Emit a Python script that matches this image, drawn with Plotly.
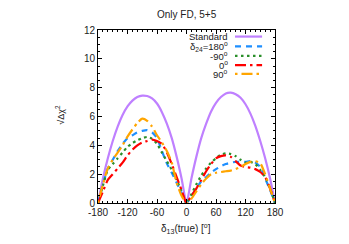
import plotly.graph_objects as go

delta = list(range(-180, 181, 10))

standard = [0, 1.7, 3.1, 4.3, 5.3, 6.1, 6.7, 7.1, 7.35, 7.45, 7.42, 7.25, 6.9, 6.3, 5.5, 4.5, 3.2, 1.7, 0,
            1.7, 3.2, 4.5, 5.5, 6.35, 6.95, 7.35, 7.6, 7.65, 7.55, 7.3, 6.85, 6.2, 5.35, 4.3, 3.1, 1.7, 0]
d24_180 = [0, 1.3, 2.4, 3.0, 3.6, 4.1, 4.5, 4.7, 4.9, 5.0, 5.05, 4.9, 4.5, 3.6, 2.75, 2.1, 1.4, 0.7, 0,
           0.5, 1.0, 1.5, 1.8, 2.1, 2.35, 2.55, 2.7, 2.8, 2.85, 2.85, 2.85, 2.9, 2.8, 2.5, 1.7, 0.9, 0]
d24_m90 = [0, 1.2, 2.3, 2.7, 3.1, 3.5, 3.9, 4.15, 4.35, 4.5, 4.58, 4.45, 4.1, 3.5, 2.9, 2.3, 1.6, 0.8, 0,
           0.6, 1.3, 1.9, 2.4, 2.8, 3.1, 3.35, 3.45, 3.4, 3.25, 3.0, 2.8, 2.85, 2.7, 2.3, 1.8, 1.0, 0]
d24_0 = [0, 0.8, 1.6, 2.0, 2.4, 2.8, 3.3, 3.7, 4.0, 4.2, 4.3, 4.4, 4.3, 4.1, 3.5, 2.7, 1.8, 0.9, 0,
         0.5, 1.0, 1.6, 2.2, 2.7, 3.1, 3.25, 3.3, 3.2, 2.9, 2.6, 2.5, 2.45, 2.35, 2.15, 1.8, 1.0, 0]
d24_90 = [0, 1.3, 2.4, 3.0, 3.5, 4.0, 4.6, 5.1, 5.55, 5.85, 5.7, 5.3, 4.7, 4.2, 3.6, 2.8, 1.4, 0.5, 0,
          0.3, 0.8, 1.3, 1.7, 2.0, 2.1, 2.15, 2.2, 2.25, 2.35, 2.5, 2.7, 2.85, 2.9, 2.75, 2.0, 1.0, 0]

x_ticks = [-180, -120, -60, 0, 60, 120, 180]
y_ticks = [0, 2, 4, 6, 8, 10, 12]

labels = ["Standard", "δ<sub>24</sub>=180<sup>o</sup>", "-90<sup>o</sup>", "0<sup>o</sup>", "90<sup>o</sup>"]
series = [standard, d24_180, d24_m90, d24_0, d24_90]
colors = ["#bf80ff", "#1e8fff", "#2a8f2a", "#ff0000", "#ffa500"]
dashes = ["solid", "6px,5px", "2.5px,3.5px", "11px,4px,2.5px,4px", "2.5px,4px,11px,4px"]

FONT = "Liberation Sans, Arial, sans-serif"
TXT = "#222"

fig = go.Figure()
for ys, c, d in zip(series, colors, dashes):
    fig.add_trace(go.Scatter(x=delta, y=ys, mode="lines",
                             line=dict(color=c, width=2.2, dash=d, shape="spline", smoothing=0.6),
                             showlegend=False))

# legend drawn manually (text right, sample at right)
row_y = [0.962, 0.905, 0.850, 0.797, 0.746]
for lab, c, d, yy in zip(labels, colors, dashes, row_y):
    fig.add_annotation(x=0.748, y=yy, xref="paper", yref="paper", text=lab, showarrow=False,
                       xanchor="right", yanchor="middle", font=dict(family=FONT, size=9.5, color=TXT))
    fig.add_shape(type="line", xref="paper", yref="paper", x0=0.774, x1=0.927, y0=yy, y1=yy,
                  line=dict(color=c, width=2.2, dash=d))

# titles
fig.add_annotation(x=0.50, y=1.092, xref="paper", yref="paper", text="Only FD, 5+5", showarrow=False,
                   xanchor="center", yanchor="middle", font=dict(family=FONT, size=10, color=TXT))
fig.add_annotation(x=0.497, y=-0.148, xref="paper", yref="paper",
                   text="δ<sub>13</sub>(true) [<sup>o</sup>]", showarrow=False,
                   xanchor="center", yanchor="middle", font=dict(family=FONT, size=10, color=TXT))
fig.add_annotation(x=-0.215, y=0.51, xref="paper", yref="paper", text="√Δχ<sup>2</sup>", showarrow=False,
                   textangle=-90, xanchor="center", yanchor="middle", font=dict(family=FONT, size=9, color=TXT))

axis_common = dict(showline=True, linecolor="black", linewidth=1, mirror="ticks",
                   ticks="inside", ticklen=4, tickcolor="black", showgrid=False, zeroline=False,
                   tickfont=dict(family=FONT, size=10, color=TXT))

fig.update_xaxes(range=[-180, 180], tickvals=x_ticks, ticktext=[str(v) for v in x_ticks],
                 minor=dict(ticks="inside", dtick=10, ticklen=2, tickcolor="black"),
                 **axis_common)
fig.update_yaxes(range=[0, 12], tickvals=y_ticks, ticktext=[str(v) for v in y_ticks],
                 minor=dict(ticks="inside", dtick=0.5, ticklen=2, tickcolor="black"),
                 **axis_common)

# the page body adds an 8px offset, margins compensate for it
fig.update_layout(width=349, height=244, margin=dict(l=90, r=82, t=22, b=49),
                  paper_bgcolor="white", plot_bgcolor="white")

fig.write_html("out.html")
